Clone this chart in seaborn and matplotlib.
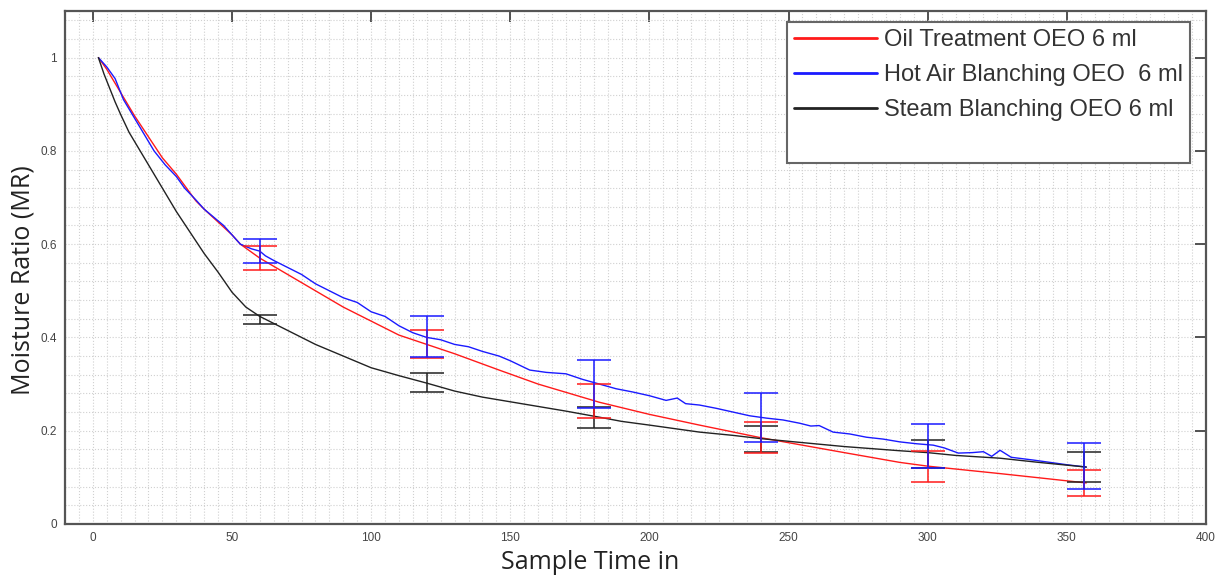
import numpy as np
import pandas as pd
import seaborn as sns
import matplotlib.pyplot as plt
from matplotlib.ticker import MultipleLocator, FuncFormatter
from matplotlib.lines import Line2D

# Curves
oil_t = [2, 5, 10, 15, 20, 25, 30, 37, 40, 50, 53, 60, 70, 80, 86, 90, 100,
         110, 120, 130, 146, 160, 182, 200, 218, 240, 254, 270, 290, 300,
         326, 340, 357]
oil_mr = [1.0, 0.975, 0.925, 0.875, 0.83, 0.785, 0.75, 0.693, 0.675, 0.62,
          0.60, 0.57, 0.535, 0.50, 0.479, 0.465, 0.435, 0.405, 0.385, 0.365,
          0.33, 0.30, 0.261, 0.235, 0.212, 0.185, 0.170, 0.153, 0.132, 0.124,
          0.108, 0.099, 0.088]

hot_t = [2, 5, 8, 11, 15, 18, 22, 26, 30, 33, 37, 40, 44, 47, 50, 53, 57, 60,
         62, 65, 70, 75, 80, 85, 90, 95, 100, 105, 110, 115, 120, 125, 130,
         135, 140, 146, 150, 157, 163, 170, 176, 182, 188, 194, 200, 206, 210,
         213, 218, 224, 230, 236, 242, 248, 254, 258, 261, 266, 272, 278, 284,
         290, 296, 302, 306, 311, 316, 320, 323, 326, 330, 334, 338, 344, 350,
         357]
hot_mr = [1.0, 0.98, 0.955, 0.91, 0.87, 0.84, 0.80, 0.77, 0.745, 0.72, 0.695,
          0.675, 0.655, 0.64, 0.62, 0.60, 0.59, 0.585, 0.575, 0.565, 0.55,
          0.535, 0.515, 0.50, 0.485, 0.475, 0.455, 0.445, 0.425, 0.41, 0.40,
          0.395, 0.385, 0.38, 0.37, 0.36, 0.35, 0.33, 0.325, 0.322, 0.31, 0.30,
          0.29, 0.283, 0.275, 0.265, 0.27, 0.258, 0.255, 0.248, 0.24, 0.232,
          0.227, 0.223, 0.216, 0.21, 0.211, 0.197, 0.193, 0.186, 0.182, 0.176,
          0.172, 0.169, 0.163, 0.152, 0.153, 0.155, 0.145, 0.158, 0.143, 0.14,
          0.137, 0.132, 0.127, 0.122]

steam_t = [2, 4, 6, 8, 10, 13, 16, 20, 25, 30, 35, 40, 45, 50, 55, 60, 65, 70,
           80, 90, 100, 110, 120, 130, 140, 150, 160, 170, 182, 190, 200, 218,
           230, 240, 254, 270, 290, 300, 310, 326, 340, 357]
steam_mr = [1.0, 0.965, 0.935, 0.905, 0.878, 0.84, 0.81, 0.77, 0.72, 0.67,
            0.625, 0.58, 0.54, 0.497, 0.465, 0.445, 0.43, 0.415, 0.385, 0.36,
            0.335, 0.318, 0.302, 0.285, 0.272, 0.262, 0.252, 0.242, 0.229,
            0.22, 0.212, 0.197, 0.19, 0.183, 0.175, 0.166, 0.157, 0.153, 0.147,
            0.141, 0.132, 0.122]

# Error bars (mean and half range) at the sampling times
err_t = [60, 120, 180, 240, 300, 356]
oil_mean = [0.57, 0.385, 0.2635, 0.185, 0.123, 0.088]
oil_err = [0.025, 0.03, 0.0365, 0.033, 0.033, 0.028]
hot_mean = [0.586, 0.401, 0.30, 0.2275, 0.167, 0.124]
hot_err = [0.026, 0.044, 0.052, 0.0525, 0.047, 0.049]
steam_mean = [0.4385, 0.3035, 0.2275, 0.182, 0.15, 0.122]
steam_err = [0.0105, 0.0195, 0.0225, 0.028, 0.03, 0.032]

labels = ['Oil Treatment OEO 6 ml', 'Hot Air Blanching OEO  6 ml',
          'Steam Blanching OEO 6 ml']
colors = ['#ff1a1a', '#1a1aff', '#222222']

df = pd.concat([
    pd.DataFrame({'t': oil_t, 'mr': oil_mr, 'series': labels[0]}),
    pd.DataFrame({'t': hot_t, 'mr': hot_mr, 'series': labels[1]}),
    pd.DataFrame({'t': steam_t, 'mr': steam_mr, 'series': labels[2]}),
])

sns.set_theme(style='white')
plt.rcParams['font.family'] = ['Liberation Sans', 'DejaVu Sans']

fig = plt.figure(figsize=(12.22, 5.77), dpi=100)
ax = fig.add_axes([0.0532, 0.0919, 0.9337, 0.8891])

sns.lineplot(data=df, x='t', y='mr', hue='series', palette=colors,
             hue_order=labels, estimator=None, sort=True, linewidth=1.0,
             legend=False, ax=ax)

for mean, err, c in zip([steam_mean, oil_mean, hot_mean],
                        [steam_err, oil_err, hot_err],
                        [colors[2], colors[0], colors[1]]):
    ax.errorbar(err_t, mean, yerr=err, fmt='none', ecolor=c, elinewidth=1.1,
                capsize=12, capthick=1.1)

ax.set_xlim(-10, 400)
ax.set_ylim(0, 1.1)
ax.xaxis.set_major_locator(MultipleLocator(50))
ax.xaxis.set_minor_locator(MultipleLocator(5))
ax.set_yticks([0, 0.2, 0.4, 0.6, 0.8, 1.0])
ax.yaxis.set_minor_locator(MultipleLocator(0.04))
ax.yaxis.set_major_formatter(FuncFormatter(lambda v, p: f'{v:g}'))

ax.grid(True, which='both', linestyle=':', color='#d0d0d0', linewidth=0.8)
ax.tick_params(which='major', direction='in', length=8, width=1.3,
               top=True, right=True, labelsize=8.5, labelcolor='#444444',
               color='#444444', pad=6)
ax.tick_params(which='minor', length=0)
for s in ax.spines.values():
    s.set_color('#555555')
    s.set_linewidth(1.6)

ax.set_xlabel('Sample Time in', fontsize=18, family=['Open Sans', 'DejaVu Sans'],
              color='#222222')
ax.set_ylabel('Moisture Ratio (MR)', fontsize=18,
              family=['Open Sans', 'DejaVu Sans'], color='#222222')
ax.xaxis.set_label_coords(0.46, -0.05)
ax.yaxis.set_label_coords(-0.026, 0.476)

handles = [Line2D([], [], color=c, linewidth=2) for c in colors]
handles.append(Line2D([], [], color='none'))
leg = ax.legend(handles, labels + [' '], loc='upper right',
                bbox_to_anchor=(0.986, 0.979), borderaxespad=0, fontsize=17,
                handlelength=3.5, handletextpad=0.3, labelspacing=0.55,
                borderpad=0.3, fancybox=False, framealpha=1,
                edgecolor='#666666')
leg.get_frame().set_linewidth(1.5)
for txt in leg.get_texts():
    txt.set_color('#333333')

fig.savefig('out.png', dpi=100)
